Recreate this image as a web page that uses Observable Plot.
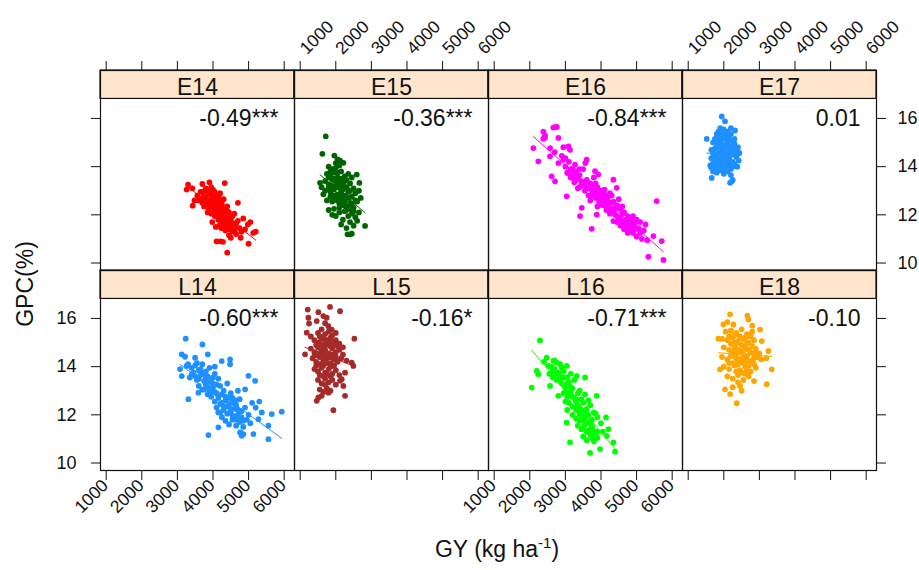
<!DOCTYPE html>
<html><head><meta charset="utf-8">
<script src="https://cdn.jsdelivr.net/npm/d3@7"></script>
<script src="https://cdn.jsdelivr.net/npm/@observablehq/plot@0.6"></script>
<style>
body{margin:0;background:#fff;}
#wrap{position:relative;width:919px;height:570px;font-family:"Liberation Sans",Arial,sans-serif;}
#wrap svg{position:absolute;left:0;top:0;}
.ytitle{position:absolute;left:25px;top:284px;transform:translate(-50%,-50%) rotate(-90deg);font-size:23px;white-space:nowrap;line-height:1;color:#111;}
.xtitle{position:absolute;left:497px;top:549px;transform:translate(-50%,-50%);font-size:23px;white-space:nowrap;line-height:1;color:#111;}
.xtitle sup{font-size:15px;vertical-align:baseline;position:relative;top:-9px;}
</style></head>
<body><div id="wrap"></div>
<script>
// ---- panel metadata ----
const panelNames  = ["E14","E15","E16","E17","L14","L15","L16","E18"];
const panelCols   = [0,1,2,3,0,1,2,3];
const panelRows   = [0,0,0,0,1,1,1,1];
const panelColors = ["#FF0000","#006400","#FF00FF","#1E90FF","#1E90FF","#A52A2A","#00FF00","#FFA500"];
const corrLabels  = ["-0.49***","-0.36***","-0.84***","0.01","-0.60***","-0.16*","-0.71***","-0.10"];
const xTicks = [1000,2000,3000,4000,5000,6000];
const yTicks = [10,12,14,16];

// ---- data: [GY (kg/ha), GPC (%)] ----
const E14 = [[3300,13.25],[3420,13.10],[3260,13.05],[3700,13.28],[3900,13.35],[4330,13.32],[3800,13.10],[3950,13.15],[3430,12.38],[3480,12.60],[3560,12.80],[4700,12.50],[4980,11.60],[5130,11.25],[5200,11.30],[4780,11.05],[5000,10.80],[4100,10.90],[4200,10.90],[4280,10.88],[4400,10.43],[4850,11.85],[5050,11.70],
[3650,12.95],[3700,12.70],[3750,12.85],[3800,12.55],[3850,12.90],[3900,12.40],[3950,12.75],[4000,12.60],[4050,12.95],[4100,12.30],[3880,12.20],[3950,12.05],[4000,12.35],[4050,12.10],[4100,12.80],[4150,12.55],[4200,12.00],[4250,12.45],[4300,12.20],[4350,11.90],[4150,11.80],[4200,11.60],[4250,11.85],[4300,11.55],[4400,11.70],[4450,11.40],[4500,11.60],[4550,11.30],[4600,11.50],[4650,11.20],[4350,11.35],[4450,11.15],[4500,11.85],[4120,12.15],[4180,12.40],[4050,11.95],[3980,11.70],[4080,11.50],[3750,12.35],[3850,12.10],[3700,12.50],[4300,12.65],[4400,12.35],[4450,12.10],[4550,11.95],[4600,12.05],[4700,11.75],[4750,11.45],[4800,11.30],[4900,11.40],[4650,11.65],[3900,12.95],[4000,13.05],[4200,12.90],[3600,12.60],[4250,12.10],[4150,12.05],[4350,12.00],[4050,12.45],[3800,12.75],[4500,11.05],[4380,11.55],[4220,11.75],
[3780,12.65],[3870,12.45],[3920,12.60],[3990,12.50],[4030,12.25],[4070,12.65],[4110,12.45],[4160,12.30],[4210,12.20],[4260,12.30],[4310,12.05],[4360,11.85],[4410,11.95],[4460,11.75],[4510,11.50],[4560,11.65],[4610,11.35],[4130,11.95],[4180,11.85],[4230,11.45],[4280,11.70],[4330,11.45],[4030,12.85],[3960,12.95],[4170,12.70],[3820,13.00],[3720,12.95],[4080,12.20],[3930,12.30],[4400,12.15]];
const E15 = [[1717,15.26],[1623,14.53],[1960,14.46],[2120,14.25],[2214,14.16],[2050,14.30],[1558,13.33],[2588,13.67],[2663,13.33],[2822,11.54],[2400,11.19],[2330,11.19],[2450,11.22],
[1800,14.00],[1900,13.90],[2000,13.95],[2100,14.05],[1750,13.70],[1850,13.60],[1950,13.75],[2050,13.55],[2150,13.80],[2250,13.60],[2350,13.70],[1700,13.40],[1800,13.25],[1900,13.45],[2000,13.20],[2100,13.35],[2200,13.25],[2300,13.45],[2400,13.30],[2500,13.10],[1700,13.00],[1850,12.95],[1950,13.05],[2050,12.85],[2150,12.95],[2250,12.80],[2350,12.95],[2450,12.75],[2550,12.90],[1750,12.60],[1900,12.55],[2000,12.70],[2100,12.45],[2200,12.60],[2300,12.35],[2400,12.50],[2500,12.30],[2600,12.55],[1800,12.20],[1950,12.25],[2100,12.10],[2250,12.15],[2350,11.95],[2450,12.05],[2550,11.90],[2650,12.10],[2000,11.95],[2200,11.80],[2400,11.70],[2500,11.55],[2600,11.75],[1650,12.85],[1600,13.15],[2700,12.70],[2650,13.00],[2150,11.60],[2300,11.45],[1900,12.00],
[1850,13.80],[1950,13.50],[2050,13.75],[2150,13.50],[2250,13.40],[1800,13.10],[1900,13.20],[2000,13.40],[2100,13.15],[2200,13.05],[2300,13.15],[2400,13.00],[1950,12.80],[2050,12.60],[2150,12.75],[2250,12.55],[2350,12.70],[2450,12.45],[2100,12.30],[2200,12.40],[2300,12.20],[2400,12.25],[2500,12.15],[1850,12.75],[1800,13.55],[2000,14.15],[2450,13.55],[2550,12.60]];
const E16 = [[2709,15.64],[2660,15.62],[2760,15.65],[2381,15.45],[2428,15.30],[2380,15.16],[2428,15.20],[2803,15.19],[2100,14.77],[2240,14.22],[2569,14.77],[2569,14.43],[2943,14.81],[3084,14.84],[3130,14.70],[2803,14.15],[2943,14.29],[2615,13.60],[2709,13.39],[3599,14.29],[3560,14.15],[3271,14.08],[3740,11.42],[3412,11.95],[3459,12.29],[3037,12.77],[5566,12.57],[5332,10.26],[5753,10.13],[5707,10.91],[5472,11.12],[4911,11.60],[3880,12.01],[4348,13.46],[4442,13.12],[3833,13.81],[3927,13.67],[4348,11.74],
[3000,14.00],[3050,13.75],[3100,14.20],[3150,13.55],[3200,13.90],[3250,13.35],[3300,13.80],[3350,13.10],[3400,13.65],[3450,13.25],[3500,13.90],[3550,13.00],[3600,13.45],[3650,12.80],[3700,13.30],[3750,12.95],[3800,13.55],[3850,12.70],[3900,13.15],[3950,12.55],[4000,13.00],[4050,12.40],[4100,12.85],[4150,12.60],[4200,12.30],[4250,12.90],[4300,12.15],[4350,12.55],[4400,12.00],[4450,12.40],[4500,11.85],[4550,12.25],[4600,11.70],[4650,12.10],[4700,11.55],[4750,11.95],[4800,11.40],[4850,11.80],[4900,11.25],[4950,11.65],[5000,11.10],[5050,11.45],[5100,11.70],[5150,11.00],[5200,11.35],[5250,11.60],[5300,10.95],[4000,12.60],[4100,12.45],[4200,12.75],[4300,12.50],[4400,12.25],[3700,12.60],[3800,12.85],[3900,12.35],[4500,12.65],[4600,12.05],[4700,11.80],[4800,11.70],[3300,13.45],[3400,13.15],[3200,13.55],[3100,13.70],[4150,12.20],[4250,12.05],[4350,12.25],[4450,11.70],[4550,11.55],[4650,11.40],[4750,11.25],[5000,11.80],[4850,11.50],[3600,13.10],[3500,13.25],[3750,13.15],[3950,12.85],[4050,12.70],
[3150,13.90],[3250,13.70],[3350,13.50],[3450,13.40],[3550,13.30],[3650,13.10],[3750,12.80],[3850,12.95],[3950,12.70],[4050,12.55],[4150,12.40],[4250,12.25],[4350,12.10],[4450,11.95],[4550,11.85],[4650,11.75],[4750,11.60],[4850,11.35],[4950,11.40],[3850,13.30],[4100,13.05],[4300,12.80],[4600,12.35],[4900,11.95],[5100,11.25],[3400,13.90],[2900,14.45],[3000,14.35],[2700,14.60],[4200,12.55]];
const E17 = [[1942,16.08],[2035,15.88],[1520,15.15],[2316,15.50],[2223,13.39],[2176,13.33],[1661,13.53],[2438,14.57],[2250,13.45],
[1900,15.60],[2000,15.55],[2100,15.45],[2200,15.60],[1800,15.35],[1900,15.25],[2000,15.30],[2100,15.20],[2200,15.35],[2300,15.15],[1700,15.00],[1800,14.95],[1900,15.05],[2000,14.90],[2100,15.00],[2200,14.85],[2300,14.95],[2400,14.80],[1650,14.70],[1750,14.75],[1850,14.60],[1950,14.70],[2050,14.55],[2150,14.65],[2250,14.50],[2350,14.70],[1650,14.35],[1750,14.45],[1850,14.30],[1950,14.40],[2050,14.25],[2150,14.35],[2250,14.20],[2350,14.40],[2420,14.25],[1620,14.05],[1700,14.15],[1800,14.00],[1900,14.10],[2000,13.95],[2100,14.05],[2200,13.90],[2300,14.10],[2380,14.00],[1700,13.80],[1800,13.75],[1900,13.85],[2000,13.70],[2100,13.80],[2200,13.65],[1650,13.95],[1950,14.50],[2050,14.80],[1850,14.85],[2150,15.10],[1750,14.20],[2250,14.75],[1950,15.15],[2100,14.45],
[1850,15.45],[1950,15.40],[2050,15.35],[2150,15.25],[1750,15.15],[1850,15.10],[2050,15.15],[2250,15.05],[1800,14.80],[1900,14.90],[2000,14.75],[2100,14.85],[2300,14.80],[1700,14.55],[1800,14.50],[2000,14.45],[2200,14.55],[2300,14.60],[1800,14.25],[1900,14.20],[2000,14.10],[2100,14.20],[2200,14.15],[1850,13.90],[1950,13.95],[2050,13.85],[2150,13.95],[2250,14.00],[1750,13.90],[2380,14.50]];
const L14 = [[3234,15.16],[3703,14.92],[3122,14.51],[3216,14.41],[3853,14.51],[3497,14.37],[4246,14.23],[4480,14.30],[4480,14.10],[3260,14.03],[3075,13.90],[3403,13.68],[3122,13.61],[3310,12.65],[3590,12.92],[4152,11.48],[3871,11.16],[4761,11.27],[4855,11.20],[4808,11.13],[4780,11.25],[5136,11.20],[5557,10.99],[5276,11.82],[5557,11.55],[5932,12.13],[5183,13.41],[4995,13.62],[4902,13.06],[5370,12.10],[5651,12.03],
[3300,14.10],[3400,13.95],[3500,14.05],[3600,13.85],[3700,14.10],[3800,13.80],[3900,13.95],[3350,13.55],[3450,13.75],[3550,13.45],[3650,13.65],[3750,13.40],[3850,13.60],[3950,13.35],[4050,13.70],[4150,13.50],[3600,13.20],[3700,13.05],[3800,13.25],[3900,12.95],[4000,13.15],[4100,12.90],[4200,13.20],[4300,13.00],[4400,13.30],[3950,12.75],[4050,12.55],[4150,12.80],[4250,12.50],[4350,12.75],[4450,12.45],[4550,12.70],[4650,12.40],[4750,12.65],[4100,12.30],[4200,12.10],[4300,12.35],[4400,12.05],[4500,12.25],[4600,11.95],[4700,12.20],[4800,11.90],[4900,12.30],[5000,12.00],[5100,12.50],[4350,11.75],[4450,11.60],[4550,11.80],[4650,11.55],[4750,11.70],[4850,11.50],[4950,11.80],[5050,11.65],[4250,11.90],[3850,12.85],[4000,13.55],[4500,12.90],[4600,12.60],[4700,13.00],[5200,12.30],[5300,12.55],[4050,14.00],[4150,12.10],
[3500,13.60],[3600,13.50],[3700,13.70],[3800,13.55],[3900,13.40],[4000,13.30],[4100,13.25],[3750,13.05],[3850,13.15],[3950,13.00],[4050,12.95],[4150,12.70],[4250,12.85],[4350,12.60],[4450,12.70],[4550,12.50],[4650,12.60],[4200,12.45],[4300,12.20],[4400,12.35],[4500,12.10],[4600,12.25],[4700,12.00],[4800,12.15],[4550,11.95],[4650,11.80],[4750,11.85],[4850,11.75],[3650,13.90],[3550,14.15]];
const L15 = [[1211,16.37],[1511,16.26],[1838,16.48],[2119,16.30],[1464,15.89],[1230,16.03],[1248,15.79],[1745,16.03],[1792,15.68],[1885,15.54],[2522,15.16],[1183,15.41],[1136,14.51],[2447,14.17],[2494,14.03],[2260,13.75],[2166,13.48],[2213,13.20],[2260,12.79],[1511,12.72],[1464,12.58],[1604,12.79],[1932,12.19],[1792,12.92],[2119,13.41],[1650,16.10],
[1500,15.40],[1600,15.55],[1700,15.35],[1800,15.45],[1900,15.30],[2000,15.40],[1400,15.10],[1500,15.00],[1600,15.15],[1700,14.95],[1800,15.05],[1900,14.90],[2000,15.10],[2100,14.95],[1300,14.75],[1400,14.60],[1500,14.80],[1600,14.65],[1700,14.70],[1800,14.55],[1900,14.75],[2000,14.60],[2100,14.70],[2200,14.50],[1350,14.35],[1450,14.20],[1550,14.40],[1650,14.25],[1750,14.35],[1850,14.15],[1950,14.30],[2050,14.20],[2150,14.35],[2300,14.25],[1400,13.90],[1500,13.80],[1600,13.95],[1700,13.75],[1800,13.90],[1900,13.70],[2000,13.85],[2100,13.65],[1500,13.45],[1600,13.30],[1700,13.50],[1800,13.35],[1900,13.45],[2000,13.25],[1550,13.05],[1650,12.95],[1750,13.10],[1850,13.00],[1700,15.80],[1300,15.25],[2200,14.80],[1650,14.50],[1850,14.40],
[1550,15.25],[1650,15.20],[1750,15.10],[1850,15.20],[1950,15.05],[1450,14.90],[1550,14.95],[1650,14.85],[1750,14.90],[1850,14.85],[1950,14.95],[2050,14.85],[1400,14.45],[1500,14.55],[1600,14.45],[1700,14.50],[1800,14.40],[1900,14.50],[2000,14.40],[1450,14.05],[1550,14.10],[1650,14.05],[1750,14.15],[1850,14.00],[1950,14.05],[1550,13.65],[1650,13.60],[1750,13.70],[1850,13.60],[1700,13.25]];
const L16 = [[2288,15.09],[2054,13.13],[2475,14.37],[2522,14.03],[2194,13.82],[2241,13.68],[2569,13.20],[2662,14.24],[2755,14.17],[2850,14.10],[3037,14.03],[3318,13.61],[3552,13.55],[3880,12.79],[4142,11.89],[4348,10.86],[4395,10.47],[3693,10.42],[3974,10.58],[3131,10.86],[2803,12.79],[3037,11.68],[4208,11.41],[4161,11.13],[2400,14.20],
[2600,14.00],[2700,13.90],[2800,13.75],[2650,13.55],[2750,13.45],[2850,13.60],[2950,13.80],[3050,13.55],[2900,13.30],[3000,13.15],[3100,13.35],[3200,13.10],[3250,13.45],[2950,12.90],[3050,12.75],[3150,12.95],[3250,12.70],[3350,12.90],[3450,12.65],[3100,12.50],[3200,12.35],[3300,12.55],[3400,12.30],[3500,12.50],[3600,12.25],[3200,12.00],[3300,11.85],[3400,12.05],[3500,11.80],[3600,11.95],[3700,11.70],[3350,11.55],[3450,11.40],[3550,11.60],[3650,11.35],[3750,11.50],[3850,11.25],[3500,11.10],[3600,10.95],[3700,11.15],[3800,10.90],[3900,11.05],[3700,12.40],[3800,12.10],[3900,11.90],[4000,11.65],[4050,11.30],[2700,14.25],[3150,13.70],[3400,13.00],[3000,12.55],[3550,12.85],[3650,12.60],
[2650,13.80],[2750,13.70],[2850,13.40],[2950,13.55],[3050,13.30],[3150,13.15],[3000,12.95],[3100,12.80],[3200,12.75],[3300,12.65],[3350,12.40],[3450,12.20],[3550,12.10],[3650,12.00],[3300,12.20],[3450,11.95],[3550,11.75],[3650,11.65],[3750,11.80],[3400,11.75],[3500,11.45],[3600,11.30],[3700,11.40],[3800,11.30],[3900,11.30],[3750,11.05],[3850,12.05],[2900,13.95],[2550,13.70],[3050,12.20]];
const E18 = [[2176,16.17],[2663,16.12],[2691,15.96],[1989,15.75],[2270,15.75],[1848,15.16],[3019,15.54],[3066,15.06],[3253,14.65],[3347,13.89],[3206,13.27],[2035,13.06],[2176,12.86],[2363,12.48],[2457,13.20],[1895,13.89],[2800,15.70],[2100,15.85],
[2050,15.45],[2200,15.50],[2350,15.40],[2500,15.55],[2650,15.35],[2800,15.45],[1950,15.15],[2100,15.10],[2250,15.20],[2400,15.05],[2550,15.15],[2700,15.00],[2850,15.10],[2000,14.80],[2150,14.70],[2300,14.85],[2450,14.65],[2600,14.80],[2750,14.60],[2900,14.75],[3000,14.55],[1950,14.40],[2100,14.30],[2250,14.45],[2400,14.25],[2550,14.40],[2700,14.20],[2850,14.35],[3050,14.30],[3200,14.35],[2000,14.00],[2150,13.90],[2300,14.05],[2450,13.85],[2600,14.00],[2750,13.80],[2900,13.95],[2100,13.60],[2250,13.50],[2400,13.65],[2550,13.45],[2700,13.60],[2850,13.40],[2250,13.15],[2500,13.00],[2350,14.55],[2500,14.60],[2650,14.45],[2300,15.00],[2600,13.70],[2150,14.15],
[2150,15.25],[2300,15.30],[2450,15.25],[2600,15.20],[2750,15.25],[2200,14.95],[2350,14.95],[2500,14.90],[2650,14.95],[2800,14.85],[2250,14.65],[2400,14.70],[2550,14.65],[2700,14.70],[2850,14.55],[2200,14.45],[2350,14.35],[2500,14.35],[2650,14.30],[2800,14.25],[2950,14.40],[2250,14.15],[2400,14.10],[2550,14.15],[2700,14.05],[2850,14.10],[2350,13.80],[2500,13.75],[2650,13.85],[2400,13.35]];

// ---- scales / layout constants ----
const X_DOMAIN = [840, 6290];
const Y_DOMAIN = [9.69, 17.99];
const STRIP_LO = 16.81;

const series = [E14,E15,E16,E17,L14,L15,L16,E18];
const panels = panelNames.map((name,i)=>({name, col:panelCols[i], row:panelRows[i], color:panelColors[i], r:corrLabels[i]}));
const pointsOf = i => series[i].map(([gy,gpc])=>({gy, gpc, col:panelCols[i], row:panelRows[i], color:panelColors[i], panel:panelNames[i]}));
const points = series.flatMap((_,i)=>pointsOf(i));

const topXLabels = [1,3].flatMap(c=>xTicks.map(v=>({v, col:c, row:0})));
const bottomXLabels = [0,2].flatMap(c=>xTicks.map(v=>({v, col:c, row:1})));
const leftYLabels = yTicks.map(v=>({v, col:0, row:1}));
const rightYLabels = yTicks.map(v=>({v, col:3, row:0}));

const ink = "#111";
const regressionMarks = series.map((_,i)=>Plot.linearRegressionY(pointsOf(i), {x: "gy", y: "gpc", fx: "col", fy: "row", stroke: panelColors[i], ci: 0, strokeWidth: 1}));

const chart = Plot.plot({
  width: 919, height: 570,
  marginLeft: 99, marginRight: 43, marginTop: 69, marginBottom: 100,
  style: {fontFamily: "'Liberation Sans', Arial, sans-serif", background: "white", color: ink},
  x: {domain: X_DOMAIN},
  y: {domain: Y_DOMAIN},
  fx: {domain: [0,1,2,3], padding: 0, axis: null},
  fy: {domain: [0,1], padding: 0, axis: null},
  color: {type: "identity"},
  marks: [
    Plot.rect(panels, {x1: X_DOMAIN[0], x2: X_DOMAIN[1], y1: STRIP_LO, y2: Y_DOMAIN[1], fx: "col", fy: "row", fill: "#FFE5CC", stroke: ink, strokeWidth: 1.2}),
    Plot.frame({stroke: ink, strokeWidth: 1.2}),
    Plot.dot(points, {x: "gy", y: "gpc", fx: "col", fy: "row", fill: "color", r: 2.9}),
    ...regressionMarks,
    Plot.text(panels, {text: "name", fx: "col", fy: "row", frameAnchor: "top", dy: 24, lineAnchor: "bottom", fontSize: 23, fill: ink}),
    Plot.text(panels, {text: "r", fx: "col", fy: "row", frameAnchor: "top-right", dx: -16, dy: 55, lineAnchor: "bottom", textAnchor: "end", fontSize: 23, fill: ink}),
    Plot.axisX(xTicks, {anchor: "top", tickSize: 10, fill: "none", label: null, stroke: ink}),
    Plot.axisX(xTicks, {anchor: "bottom", tickSize: 10, fill: "none", label: null, stroke: ink}),
    Plot.axisY(yTicks, {anchor: "left", tickSize: 9, fill: "none", label: null, stroke: ink}),
    Plot.axisY(yTicks, {anchor: "right", tickSize: 9, fill: "none", label: null, stroke: ink}),
    Plot.text(topXLabels, {x: "v", text: d=>String(d.v), fx: "col", fy: "row", frameAnchor: "top", rotate: -45, textAnchor: "start", dy: -24, dx: -2, fontSize: 17.5, fill: ink}),
    Plot.text(bottomXLabels, {x: "v", text: d=>String(d.v), fx: "col", fy: "row", frameAnchor: "bottom", rotate: -45, textAnchor: "end", dy: 16, dx: 3, fontSize: 17.5, fill: ink}),
    Plot.text(leftYLabels, {y: "v", text: d=>String(d.v), fx: "col", fy: "row", frameAnchor: "left", textAnchor: "end", dx: -24, fontSize: 18, fill: ink}),
    Plot.text(rightYLabels, {y: "v", text: d=>String(d.v), fx: "col", fy: "row", frameAnchor: "right", textAnchor: "start", dx: 21, fontSize: 18, fill: ink})
  ]
});
const wrap = document.getElementById("wrap");
wrap.appendChild(chart);
const yt = document.createElement("div"); yt.className = "ytitle"; yt.textContent = "GPC(%)"; wrap.appendChild(yt);
const xt = document.createElement("div"); xt.className = "xtitle"; xt.innerHTML = "GY (kg ha<sup>-1</sup>)"; wrap.appendChild(xt);
</script>
</body></html>
